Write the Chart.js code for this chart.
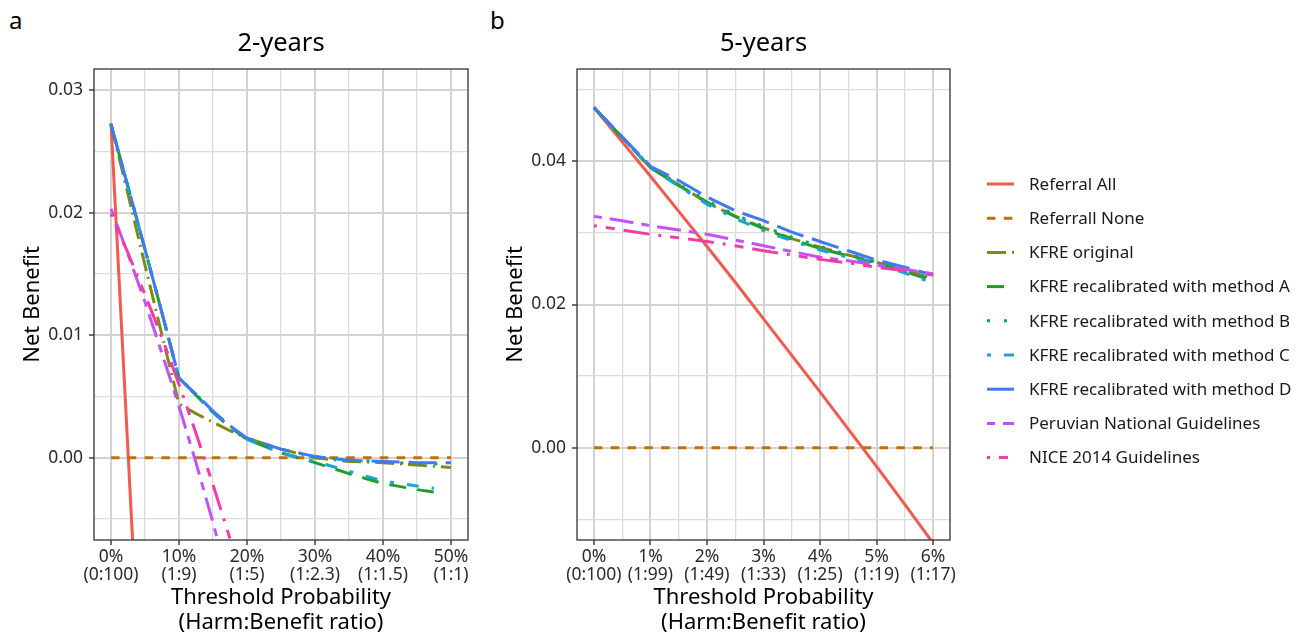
<!DOCTYPE html>
<html>
<head>
<meta charset="utf-8">
<script src="https://cdn.jsdelivr.net/npm/chart.js@4.4.1/dist/chart.umd.min.js"></script>
<style>
  html, body { margin: 0; padding: 0; background: #fff; }
  body { width: 1307px; height: 636px; position: relative; overflow: hidden; font-family: 'Noto Sans', sans-serif; }
  .panel { position: absolute; top: 0; height: 636px; }
  #left { left: 0; width: 480px; }
  #right { left: 483px; width: 824px; }
  .tag { position: absolute; font-size: 24px; line-height: 1; color: #000; }
</style>
</head>
<body>
<div class="tag" style="left:9px;top:8px">a</div>
<div class="tag" style="left:490px;top:8px">b</div>
<div id="left" class="panel"><canvas id="chart2"></canvas></div>
<div id="right" class="panel"><canvas id="chart5"></canvas></div>

<script>
// ---- series ----
const seriesNames = ['Referral All', 'Referrall None', 'KFRE original',
  'KFRE recalibrated with method A', 'KFRE recalibrated with method B',
  'KFRE recalibrated with method C', 'KFRE recalibrated with method D',
  'Peruvian National Guidelines', 'NICE 2014 Guidelines']

// ---- 2-years panel ----
const thresholds2 = [0, 0.025, 0.05, 0.075, 0.1, 0.125, 0.15, 0.175, 0.2, 0.25, 0.3, 0.35, 0.4, 0.45, 0.475, 0.5]
const refAll2  = [0.0273, 0.0005, -0.0263, null, null, null, null, null, null, null, null, null, null, null, null, null]
const refNone2 = [0, 0, 0, 0, 0, 0, 0, 0, 0, 0, 0, 0, 0, 0, 0, 0]
const orig2    = [0.0272, 0.0215, 0.0157, 0.0100, 0.0044, 0.0036, 0.0029, 0.0022, 0.0016, 0.0007, 0.0000, -0.0003, -0.0004, -0.0006, -0.0007, -0.0008]
const methA2   = [0.0272, 0.0221, 0.0170, 0.0118, 0.0065, 0.0051, 0.0037, 0.0025, 0.0015, 0.0004, -0.0004, -0.0013, -0.0021, -0.0026, -0.0028, null]
const methB2   = [0.0272, 0.0221, 0.0170, 0.0118, 0.0065, 0.0052, 0.0037, 0.0025, 0.0016, 0.0007, 0.0001, -0.0002, -0.0003, -0.0005, -0.0005, -0.0006]
const methC2   = [0.0272, 0.0221, 0.0170, 0.0118, 0.0065, 0.0051, 0.0037, 0.0025, 0.0015, 0.0004, -0.0003, -0.0011, -0.0019, -0.0023, -0.0025, null]
const methD2   = [0.0272, 0.0221, 0.0170, 0.0118, 0.0065, 0.0052, 0.0038, 0.0026, 0.0016, 0.0007, 0.0001, -0.0002, -0.0003, -0.0004, -0.0004, -0.0004]
const peru2    = [0.0203, 0.0166, 0.0127, 0.0085, 0.0042, -0.0004, -0.0053, -0.0105, null, null, null, null, null, null, null, null]
const nice2    = [0.0199, 0.0167, 0.0133, 0.0098, 0.0060, 0.0020, -0.0022, -0.0066, -0.0114, null, null, null, null, null, null, null]

const xMajor2 = [0, 0.1, 0.2, 0.3, 0.4, 0.5]
const xMinor2 = [0.05, 0.15, 0.25, 0.35, 0.45]
const xLabels2 = [['0%', '(0:100)'], ['10%', '(1:9)'], ['20%', '(1:5)'], ['30%', '(1:2.3)'], ['40%', '(1:1.5)'], ['50%', '(1:1)']]
const yMajor2 = [0, 0.01, 0.02, 0.03]
const yMinor2 = [-0.005, 0.005, 0.015, 0.025]
const yLabels2 = ['0.00', '0.01', '0.02', '0.03']

// ---- 5-years panel ----
const thresholds5 = [0, 0.005, 0.01, 0.015, 0.02, 0.025, 0.03, 0.035, 0.04, 0.045, 0.05, 0.055, 0.06]
const refAll5  = [0.0475, 0.0427, 0.0379, 0.0330, 0.0281, 0.0231, 0.0180, 0.0129, 0.0078, 0.0026, -0.0026, -0.0079, -0.0133]
const refNone5 = [0, 0, 0, 0, 0, 0, 0, 0, 0, 0, 0, 0, 0]
const orig5    = [0.0475, 0.0433, 0.0391, 0.0367, 0.0342, 0.0323, 0.0307, 0.0292, 0.0280, 0.0269, 0.0259, 0.0248, 0.0236]
const methA5   = [0.0475, 0.0433, 0.0391, 0.0366, 0.0343, 0.0323, 0.0306, 0.0291, 0.0278, 0.0268, 0.0258, 0.0246, 0.0233]
const methB5   = [0.0475, 0.0433, 0.0392, 0.0368, 0.0345, 0.0325, 0.0309, 0.0294, 0.0281, 0.0270, 0.0259, 0.0247, 0.0235]
const methC5   = [0.0475, 0.0433, 0.0391, 0.0365, 0.0340, 0.0320, 0.0303, 0.0289, 0.0276, 0.0266, 0.0257, 0.0244, 0.0230]
const methD5   = [0.0475, 0.0434, 0.0393, 0.0373, 0.0350, 0.0331, 0.0317, 0.0301, 0.0288, 0.0275, 0.0262, 0.0252, 0.0241]
const peru5    = [0.0323, 0.0317, 0.0310, 0.0304, 0.0298, 0.0290, 0.0282, 0.0274, 0.0266, 0.0261, 0.0255, 0.0249, 0.0243]
const nice5    = [0.0310, 0.0304, 0.0298, 0.0293, 0.0288, 0.0282, 0.0275, 0.0269, 0.0263, 0.0258, 0.0252, 0.0247, 0.0241]

const xMajor5 = [0, 0.01, 0.02, 0.03, 0.04, 0.05, 0.06]
const xMinor5 = [0.005, 0.015, 0.025, 0.035, 0.045, 0.055]
const xLabels5 = [['0%', '(0:100)'], ['1%', '(1:99)'], ['2%', '(1:49)'], ['3%', '(1:33)'], ['4%', '(1:25)'], ['5%', '(1:19)'], ['6%', '(1:17)']]
const yMajor5 = [0, 0.02, 0.04]
const yMinor5 = [-0.01, 0.01, 0.03, 0.05]
const yLabels5 = ['0.00', '0.02', '0.04']

// ---- styles ----
const seriesColors = ['#F25A4E', '#C26E0A', '#7B8C13', '#1E9E28', '#12A07A', '#19A3D8', '#3F7AF0', '#C452F5', '#F23CA6']
const seriesDashes = [[], [8.5, 8.3], [19, 6, 2, 6], [17, 11], [3, 14], [4, 13, 12, 13], [28, 9], [8, 8, 24, 8], [3, 9, 9, 9, 26, 9]]

Chart.defaults.font.family = "'Noto Sans', sans-serif"
Chart.defaults.color = '#2b2b2b'

const near = (a, b) => Math.abs(a - b) < 1e-9
const isIn = (v, list) => list.some(m => near(m, v))

function labelFor(v, majors, labels){
    const i = majors.findIndex(m => near(m, v))
    return i >= 0 ? labels[i] : ''
}

function gridOpts(majors){
    return {
        color: c => isIn(c.tick.value, majors) ? '#d3d3d3' : '#dcdcdc',
        lineWidth: c => isIn(c.tick.value, majors) ? 2 : 1.3,
        tickLength: 5,
        tickWidth: 1.4,
        tickColor: c => isIn(c.tick.value, majors) ? '#333333' : 'rgba(0,0,0,0)'
    }
}

function buildDatasets(xs, columns){
    return seriesNames.map((name, i) => ({
        label: name,
        data: xs.map((x, j) => ({x: x, y: columns[i][j]})).filter(p => p.y !== null),
        borderColor: seriesColors[i],
        backgroundColor: seriesColors[i],
        borderDash: seriesDashes[i],
        borderWidth: 3,
        borderCapStyle: 'butt',
        borderJoinStyle: 'round',
        pointRadius: 0,
        tension: 0,
        fill: false,
        clip: 0,
        order: seriesNames.length - i
    }))
}

// panel border, title and (optionally) legend
const panelDecor = {
    id: 'panelDecor',
    afterDatasetsDraw(chart){
        const {ctx, chartArea: a} = chart
        ctx.save()
        ctx.strokeStyle = '#333333'
        ctx.lineWidth = 1.3
        ctx.strokeRect(a.left, a.top, a.right - a.left, a.bottom - a.top)
        ctx.restore()
    },
    afterDraw(chart, args, opts){
        const {ctx, chartArea: a} = chart
        ctx.save()
        ctx.fillStyle = '#000'
        ctx.font = "25.5px 'Noto Sans'"
        ctx.textAlign = 'center'
        ctx.textBaseline = 'alphabetic'
        ctx.fillText(opts.title, (a.left + a.right) / 2, 51)

        if(opts.legend){
            chart.data.datasets.forEach((ds, i) => {
                const y = 184 + i * 34.2
                ctx.beginPath()
                ctx.setLineDash(ds.borderDash)
                ctx.lineWidth = 3
                ctx.lineCap = 'butt'
                ctx.strokeStyle = ds.borderColor
                ctx.moveTo(opts.legendX, y)
                ctx.lineTo(opts.legendX + 27, y)
                ctx.stroke()
                ctx.setLineDash([])
                ctx.fillStyle = '#1a1a1a'
                ctx.font = "17px 'Noto Sans'"
                ctx.textAlign = 'left'
                ctx.textBaseline = 'middle'
                ctx.fillText(ds.label, opts.legendX + 42, y + 1)
            })
        }
        ctx.restore()
    }
}

function makeChart(id, cfg){
    const ctx = document.getElementById(id).getContext('2d')
    return new Chart(ctx, {
        type: 'line',
        data: { datasets: buildDatasets(cfg.xs, cfg.columns) },
        plugins: [panelDecor],
        options: {
            responsive: true,
            maintainAspectRatio: false,
            animation: false,
            devicePixelRatio: 1,
            layout: { padding: { top: 69, right: cfg.padRight, bottom: 0, left: 0 } },
            plugins: {
                legend: { display: false },
                tooltip: { enabled: false },
                panelDecor: { title: cfg.title, legend: cfg.legend, legendX: cfg.legendX }
            },
            scales: {
                x: {
                    type: 'linear',
                    min: cfg.xMin, max: cfg.xMax,
                    afterBuildTicks: s => { s.ticks = [...cfg.xMajor, ...cfg.xMinor].sort((p, q) => p - q).map(v => ({value: v})) },
                    afterFit: s => { s.height = 96 },
                    ticks: {
                        autoSkip: false, maxRotation: 0, minRotation: 0, padding: 2.5,
                        color: '#2b2b2b',
                        font: { size: 17.5, lineHeight: 1.057 },
                        callback: v => labelFor(v, cfg.xMajor, cfg.xLabels)
                    },
                    grid: gridOpts(cfg.xMajor),
                    border: { display: false },
                    title: {
                        display: true,
                        text: ['Threshold Probability', '(Harm:Benefit ratio)'],
                        color: '#000',
                        font: { size: 22, lineHeight: 1.136 },
                        padding: { top: 0, bottom: 0.5 }
                    }
                },
                y: {
                    min: cfg.yMin, max: cfg.yMax,
                    afterBuildTicks: s => { s.ticks = [...cfg.yMajor, ...cfg.yMinor].sort((p, q) => p - q).map(v => ({value: v})) },
                    afterFit: s => { s.width = 94 },
                    ticks: {
                        padding: 6,
                        color: '#2b2b2b',
                        font: { size: 17.5 },
                        callback: v => labelFor(v, cfg.yMajor, cfg.yLabels)
                    },
                    grid: gridOpts(cfg.yMajor),
                    border: { display: false },
                    title: {
                        display: true,
                        text: 'Net Benefit',
                        color: '#000',
                        font: { size: 22, lineHeight: 1.136 },
                        padding: { top: 20, bottom: 0 }
                    }
                }
            }
        }
    })
}

makeChart('chart2', {
    xs: thresholds2,
    columns: [refAll2, refNone2, orig2, methA2, methB2, methC2, methD2, peru2, nice2],
    xMin: -0.025, xMax: 0.525, yMin: -0.00671, yMax: 0.03171,
    xMajor: xMajor2, xMinor: xMinor2, xLabels: xLabels2,
    yMajor: yMajor2, yMinor: yMinor2, yLabels: yLabels2,
    title: '2-years', padRight: 12, legend: false
})

makeChart('chart5', {
    xs: thresholds5,
    columns: [refAll5, refNone5, orig5, methA5, methB5, methC5, methD5, peru5, nice5],
    xMin: -0.003, xMax: 0.063, yMin: -0.01287, yMax: 0.05287,
    xMajor: xMajor5, xMinor: xMinor5, xLabels: xLabels5,
    yMajor: yMajor5, yMinor: yMinor5, yLabels: yLabels5,
    title: '5-years', padRight: 357, legend: true, legendX: 504
})
</script>
</body>
</html>
